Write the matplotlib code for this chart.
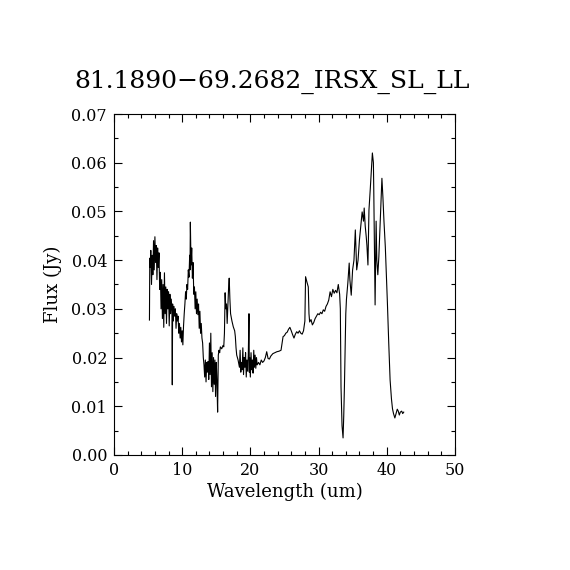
import numpy as np
import matplotlib
matplotlib.use("Agg")
import matplotlib.pyplot as plt
from matplotlib.ticker import MultipleLocator, FormatStrFormatter

# spectrum: wavelength (um) and flux (Jy)
wave = [5.20, 5.25, 5.3, 5.4, 5.5, 5.6, 5.7, 5.8, 5.9, 6.0, 6.1, 6.2, 6.3, 6.4, 6.5,
        6.6, 6.7, 6.8, 6.9, 7.0, 7.1, 7.2, 7.3, 7.4, 7.5, 7.6, 7.7, 7.8, 7.9, 8.0,
        8.1, 8.2, 8.3, 8.4, 8.5, 8.55, 8.6, 8.7, 8.8, 8.9, 9.0, 9.1, 9.2, 9.3, 9.4,
        9.5, 9.6, 9.7, 9.8, 9.9, 10.0, 10.1, 10.2, 10.3, 10.4, 10.5, 10.6, 10.7, 10.8,
        10.9, 11.0, 11.1, 11.15, 11.2, 11.3, 11.4, 11.5, 11.6, 11.7, 11.8, 11.9, 12.0,
        12.1, 12.2, 12.3, 12.4, 12.5, 12.6, 12.7, 12.8, 12.9, 13.0, 13.1, 13.2, 13.3,
        13.4, 13.5, 13.6, 13.7, 13.8, 13.9, 14.0, 14.1, 14.2, 14.3, 14.4, 14.5, 14.6,
        14.7, 14.8, 14.9, 15.0, 15.1, 15.2, 15.3, 15.4, 15.5, 15.6, 15.8, 16.0, 16.1,
        16.2, 16.3, 16.4, 16.5, 16.6, 16.8, 16.9, 17.0, 17.1, 17.3, 17.5, 17.7, 17.8,
        17.9, 18.0, 18.2, 18.4, 18.5, 18.6, 18.7, 18.8, 18.9, 19.0, 19.1, 19.2, 19.3,
        19.4, 19.5, 19.6, 19.7, 19.8, 19.85, 19.9, 20.0, 20.1, 20.2, 20.3, 20.4, 20.5,
        20.6, 20.7, 20.8, 20.9, 21.0, 21.2, 21.4, 21.6, 21.8, 22.0, 22.2, 22.4, 22.6,
        22.8, 23.0, 23.3, 23.6, 23.9, 24.2, 24.5, 24.8, 25.0, 25.2, 25.4, 25.6, 25.8,
        26.0, 26.2, 26.4, 26.6, 26.8, 27.0, 27.2, 27.4, 27.6, 27.8, 28.0, 28.1, 28.3,
        28.5, 28.6, 28.7, 28.9, 29.1, 29.3, 29.5, 29.7, 29.9, 30.1, 30.3, 30.5, 30.7,
        30.9, 31.1, 31.3, 31.5, 31.7, 31.9, 32.1, 32.3, 32.5, 32.7, 32.9, 33.1, 33.2,
        33.3, 33.45, 33.6, 33.7, 33.8, 34.0, 34.1, 34.3, 34.5, 34.6, 34.8, 35.0, 35.2,
        35.4, 35.5, 35.6, 35.8, 36.0, 36.2, 36.4, 36.6, 36.7, 36.85, 37.0, 37.1, 37.25,
        37.4, 37.6, 37.9, 38.05, 38.1, 38.3, 38.45, 38.55, 38.7, 38.85, 39.0, 39.1,
        39.3, 39.45, 39.6, 39.8, 40.1, 40.3, 40.5, 40.7, 40.85, 41.0, 41.2, 41.4, 41.55,
        41.7, 41.85, 42.0, 42.2, 42.35, 42.5]
flux = [0.0277, 0.0404, 0.0385, 0.0420, 0.0350, 0.0410, 0.0370, 0.0440, 0.0380, 0.0448,
        0.0395, 0.0430, 0.0360, 0.0425, 0.0385, 0.0415, 0.0340, 0.0375, 0.0300, 0.0360,
        0.0280, 0.0350, 0.0262, 0.0374, 0.0290, 0.0345, 0.0270, 0.0340, 0.0300, 0.0335,
        0.0265, 0.0330, 0.0290, 0.0320, 0.0295, 0.0144, 0.0310, 0.0275, 0.0305, 0.0285,
        0.0300, 0.0260, 0.0290, 0.0275, 0.0285, 0.0250, 0.0270, 0.0240, 0.0262, 0.0232,
        0.0255, 0.0226, 0.0265, 0.0290, 0.0310, 0.0335, 0.0320, 0.0350, 0.0340, 0.0380,
        0.0365, 0.0410, 0.0380, 0.0478, 0.0390, 0.0425, 0.0363, 0.0395, 0.0330, 0.0345,
        0.0300, 0.0335, 0.0290, 0.0320, 0.0288, 0.0310, 0.0260, 0.0295, 0.0250, 0.0270,
        0.0240, 0.0230, 0.0200, 0.0185, 0.0160, 0.0195, 0.0150, 0.0190, 0.0170, 0.0192,
        0.0155, 0.0230, 0.0165, 0.0250, 0.0140, 0.0210, 0.0130, 0.0200, 0.0145, 0.0195,
        0.0120, 0.0190, 0.0150, 0.0088, 0.0205, 0.0215, 0.0210, 0.0222, 0.0218, 0.0225,
        0.0222, 0.0250, 0.0333, 0.0300, 0.0310, 0.0270, 0.0340, 0.0363, 0.0320, 0.0290,
        0.0275, 0.0263, 0.0255, 0.0243, 0.0220, 0.0205, 0.0195, 0.0180, 0.0215, 0.0170,
        0.0190, 0.0175, 0.0220, 0.0165, 0.0200, 0.0180, 0.0210, 0.0160, 0.0195, 0.0172,
        0.0205, 0.0290, 0.0170, 0.0200, 0.0160, 0.0210, 0.0175, 0.0195, 0.0168, 0.0215,
        0.0180, 0.0205, 0.0178, 0.0200, 0.0185, 0.0190, 0.0185, 0.0195, 0.0190, 0.0193,
        0.0200, 0.0212, 0.0198, 0.0197, 0.0203, 0.0208, 0.0210, 0.0212, 0.0213, 0.0215,
        0.0243, 0.0245, 0.0250, 0.0252, 0.0258, 0.0262, 0.0255, 0.0247, 0.0240, 0.0248,
        0.0253, 0.0250, 0.0255, 0.0250, 0.0248, 0.0255, 0.0275, 0.0366, 0.0355, 0.0345,
        0.0290, 0.0273, 0.0278, 0.0267, 0.0272, 0.0280, 0.0285, 0.0290, 0.0288, 0.0293,
        0.0290, 0.0298, 0.0295, 0.0305, 0.0310, 0.0318, 0.0335, 0.0325, 0.0340, 0.0332,
        0.0338, 0.0333, 0.0350, 0.0330, 0.0300, 0.0140, 0.0060, 0.0035, 0.0080, 0.0140,
        0.0290, 0.0320, 0.0353, 0.0394, 0.0360, 0.0328, 0.0380, 0.0400, 0.0462, 0.0420,
        0.0380, 0.0400, 0.0441, 0.0470, 0.0499, 0.0480, 0.0507, 0.0470, 0.0448, 0.0430,
        0.0390, 0.0503, 0.0548, 0.0620, 0.0600, 0.0550, 0.0308, 0.0480, 0.0400, 0.0370,
        0.0407, 0.0460, 0.0500, 0.0568, 0.0528, 0.0480, 0.0427, 0.0314, 0.0230, 0.0154,
        0.0115, 0.0095, 0.0085, 0.0076, 0.0086, 0.0094, 0.0090, 0.0082, 0.0088, 0.0090,
        0.0085, 0.0088]

title = "81.1890\u221269.2682_IRSX_SL_LL"

plt.rcParams['font.family'] = ['DejaVu Serif']
fig = plt.figure(figsize=(5.7, 5.7), dpi=100)
ax = fig.add_axes([0.2, 0.2018, 0.598, 0.5982])
ax.plot(wave, flux, color='black', lw=0.8)
ax.set_xlim(0, 50)
ax.set_ylim(0, 0.07)
ax.xaxis.set_major_locator(MultipleLocator(10))
ax.xaxis.set_minor_locator(MultipleLocator(2))
ax.yaxis.set_major_locator(MultipleLocator(0.01))
ax.yaxis.set_minor_locator(MultipleLocator(0.005))
ax.yaxis.set_major_formatter(FormatStrFormatter('%.2f'))
ax.tick_params(which='both', direction='in', top=True, right=True, width=0.8, labelsize=11.5)
ax.tick_params(which='major', length=6)
ax.tick_params(axis='x', which='major', pad=5)
ax.tick_params(axis='y', which='major', pad=5)
ax.tick_params(which='minor', length=3)
for s in ax.spines.values():
    s.set_linewidth(0.8)
ax.set_xlabel("Wavelength (um)", fontsize=13, labelpad=3)
ax.set_ylabel("Flux (Jy)", fontsize=13, labelpad=7)
fig.text(0.478, 0.856, title, ha='center', va='center', fontsize=18)
fig.savefig("out.png", dpi=100, facecolor='white')
